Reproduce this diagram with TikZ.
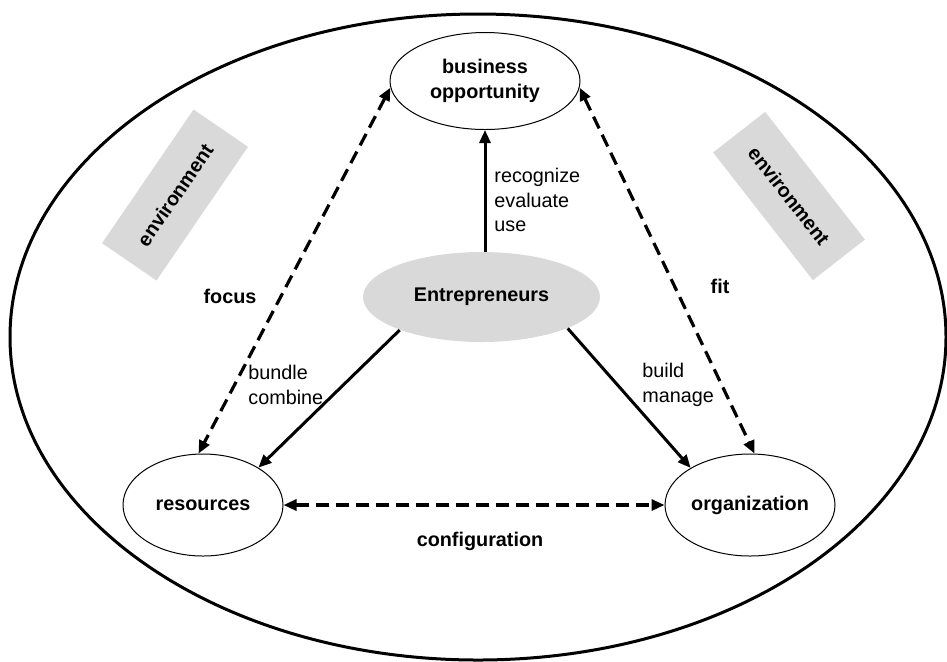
\documentclass[tikz,border=0pt]{standalone}
\usepackage{fontspec}
\setmainfont{Liberation Sans}
\usetikzlibrary{arrows.meta,shapes.geometric}

\begin{document}
\begin{tikzpicture}[x=0.5pt,y=-0.5pt,
    every node/.style={font=\fontsize{9.9}{12.3}\selectfont},
    oval/.style={ellipse,draw,line width=0.5pt,inner sep=0pt,align=center,font=\fontsize{9.9}{12.3}\selectfont\bfseries},
    envbox/.style={fill=gray!30,minimum width=81pt,minimum height=33pt,font=\fontsize{9.9}{12.3}\selectfont\bfseries},
    tag/.style={anchor=base,inner sep=0pt,font=\fontsize{9.9}{12.3}\selectfont\bfseries},
    lbl/.style={anchor=west,align=left,inner sep=0pt},
    act/.style={line width=1.5pt,-{Triangle[length=6.5pt,width=5.5pt]}},
    link/.style={line width=1.6pt,dash pattern=on 6.5pt off 3.5pt,{Triangle[length=6.5pt,width=5.5pt]}-{Triangle[length=6.5pt,width=5.5pt]}}]
    \useasboundingbox (0,0) rectangle (947,661);
    \draw[line width=1.5pt] (478,337) ellipse [x radius=234pt, y radius=161.5pt];

    \node[envbox,rotate=55.6] (envl) at (175,195) {environment};
    \node[envbox,rotate=-52] (envr) at (789,196) {environment};

    \node[oval,minimum width=95pt,minimum height=48.5pt] (opp) at (485,81) {business\\opportunity};
    \node[oval,draw=none,fill=gray!30,minimum width=118.5pt,minimum height=45pt] (ent) at (481.5,297) {Entrepreneurs};
    \node[oval,minimum width=80pt,minimum height=51pt] (res) at (203,505) {resources};
    \node[oval,minimum width=85pt,minimum height=51pt] (org) at (750,505) {organization};

    \draw[act] (ent.north -| opp.south) -- (opp.south);
    \draw[act] (ent.202) -- (res.34);
    \draw[act] (ent.-20) -- (org.148);
    \draw[link] (opp.184) -- (res.95);
    \draw[link] (opp.-4) -- (org.85);
    \draw[link] (res.east) -- (org.west);

    \node[lbl] (rec) at (494,200) {recognize\\evaluate\\use};
    \node[lbl] (bun) at (248,385) {bundle\\combine};
    \node[lbl] (bui) at (642,385) {build\\manage};
    \node[tag] (foc) at (230,303) {focus};
    \node[tag] (fit) at (720,293) {fit};
    \node[tag] (con) at (480,546) {configuration};
\end{tikzpicture}
\end{document}
